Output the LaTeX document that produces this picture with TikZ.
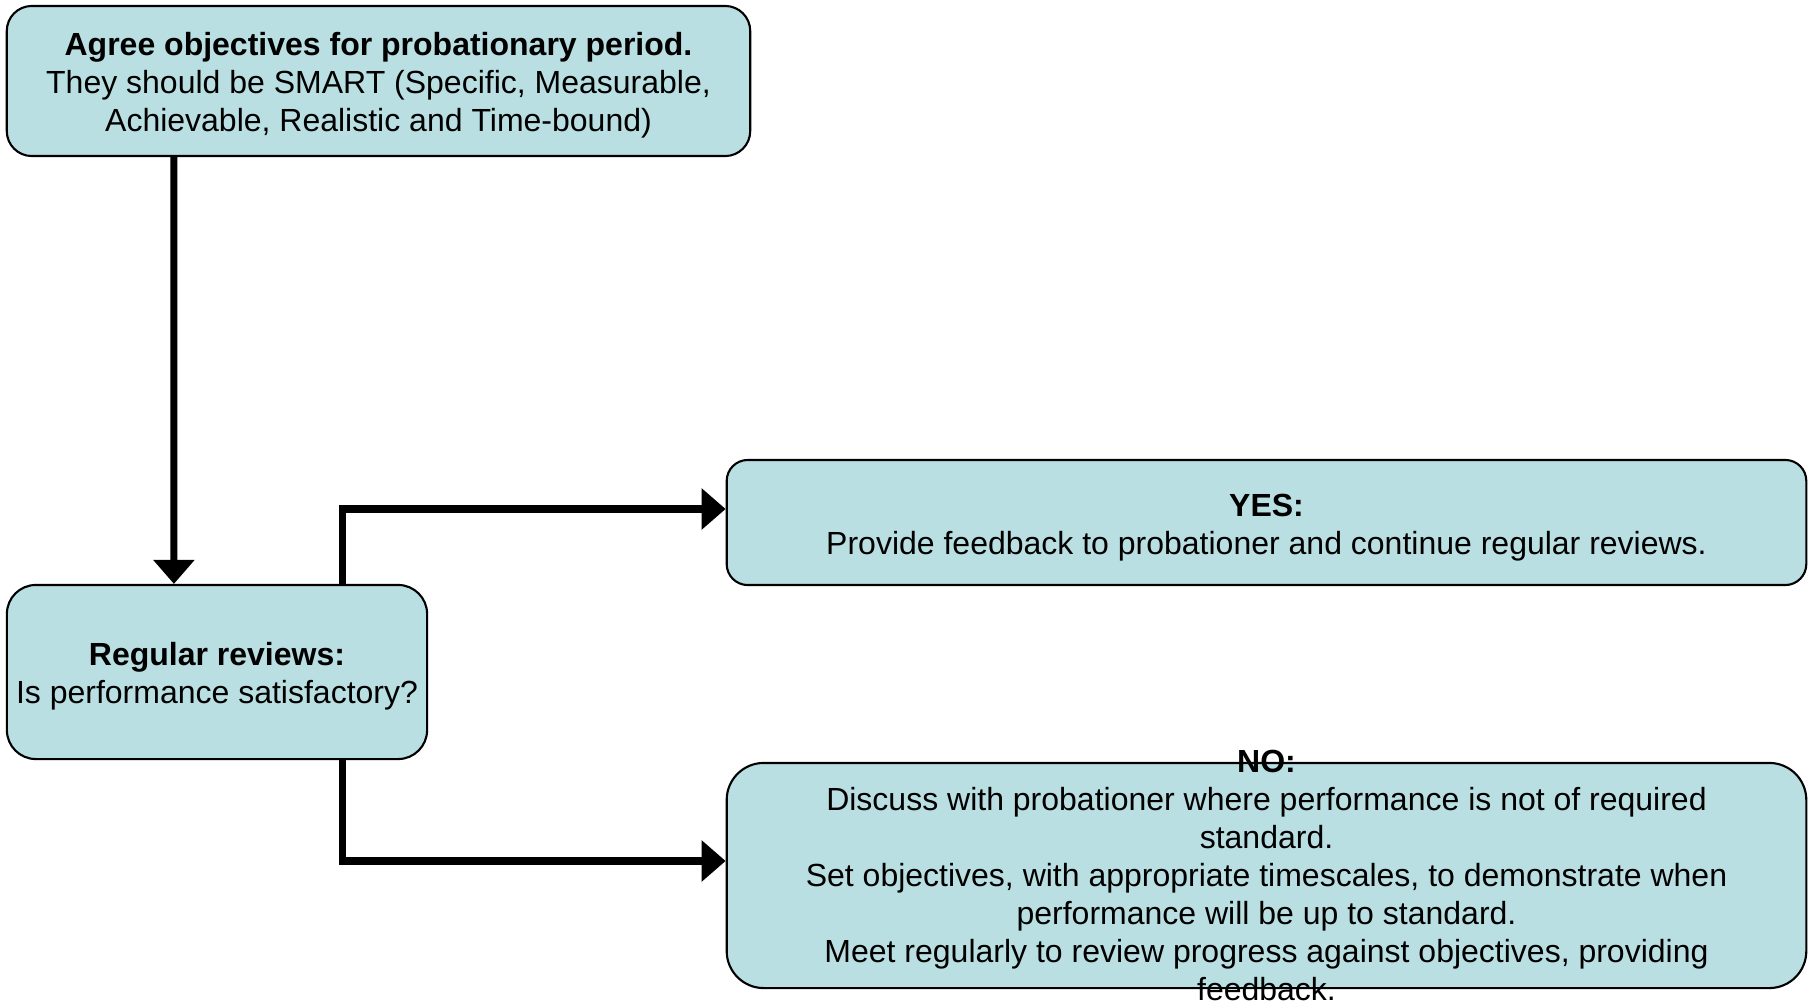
\documentclass[tikz,border=0pt]{standalone}
\usepackage{fontspec}
\setmainfont{Liberation Sans}
\usetikzlibrary{arrows.meta}
\definecolor{boxblue}{RGB}{185,223,226}
\newcommand{\lift}{\rule{0pt}{9.2pt}}
\begin{document}
\begin{tikzpicture}[x=0.01cm, y=-0.01cm,
  every node/.style={font=\fontsize{9.1}{10.8}\selectfont, align=center},
  box/.style={draw, line width=0.6pt, fill=boxblue, rounded corners=#1, inner xsep=1pt},
  conn/.style={line width=2pt, -{Triangle[width=0.4cm,length=0.24cm]}}]
\useasboundingbox (0,0) rectangle (1812,1003);
\node[box=0.25cm, minimum width=7.43cm, minimum height=1.5cm] (agree) at (378.5,81)
  {\lift\textbf{Agree objectives for probationary period.}\\They should be SMART (Specific, Measurable,\\Achievable, Realistic and Time-bound)};
\node[box=0.29cm, minimum width=4.2cm, minimum height=1.74cm] (reg) at (217,672)
  {\lift\textbf{Regular reviews:}\\Is performance satisfactory?};
\node[box=0.21cm, minimum width=10.79cm, minimum height=1.25cm] (yes) at (1266.5,522.5)
  {\lift\textbf{YES:}\\Provide feedback to probationer and continue regular reviews.};
% text of the NO box runs over its border
\node[box=0.37cm, minimum width=10.79cm, minimum height=2.25cm,
  label={[name=notext]center:{\textbf{NO:}\\Discuss with probationer where performance is not of required\\standard.\\Set objectives, with appropriate timescales, to demonstrate when\\performance will be up to standard.\\Meet regularly to review progress against objectives, providing\\feedback.}}]
  (no) at (1266.5,875.5) {};
\draw[conn] ([xshift=1.68cm]agree.south west) -- ([xshift=1.68cm]reg.north west);
\draw[conn] ([xshift=3.36cm]reg.north west) |- ([yshift=1.35mm]yes.west);
\draw[conn] ([xshift=3.36cm]reg.south west) |- ([yshift=1.45mm]no.west);
\end{tikzpicture}
\end{document}
